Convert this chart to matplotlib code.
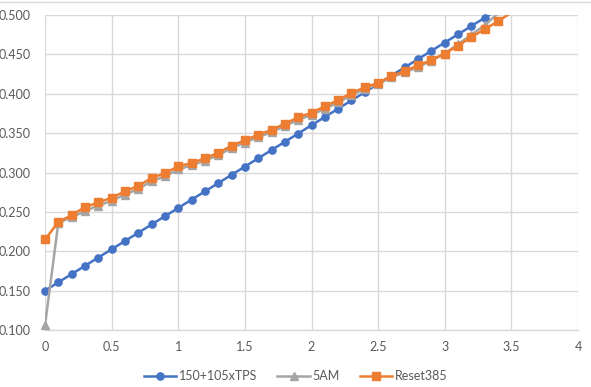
import matplotlib
matplotlib.use("Agg")
import matplotlib.pyplot as plt
from matplotlib.lines import Line2D
import numpy as np

x = [0.0, 0.1, 0.2, 0.3, 0.4, 0.5, 0.6, 0.7, 0.8, 0.9,
     1.0, 1.1, 1.2, 1.3, 1.4, 1.5, 1.6, 1.7, 1.8, 1.9,
     2.0, 2.1, 2.2, 2.3, 2.4, 2.5, 2.6, 2.7, 2.8, 2.9,
     3.0, 3.1, 3.2, 3.3, 3.4, 3.5]
tps = [0.150, 0.1605, 0.171, 0.1815, 0.192, 0.2025, 0.213, 0.2235, 0.234, 0.2445,
       0.255, 0.2655, 0.276, 0.2865, 0.297, 0.3075, 0.318, 0.3285, 0.339, 0.3495,
       0.360, 0.3705, 0.381, 0.3915, 0.402, 0.4125, 0.423, 0.4335, 0.444, 0.4545,
       0.465, 0.4755, 0.486, 0.4965, 0.507, 0.5175]
am5 = [0.106, 0.236, 0.243, 0.251, 0.258, 0.264, 0.272, 0.279, 0.289, 0.295,
       0.304, 0.309, 0.315, 0.322, 0.331, 0.338, 0.345, 0.351, 0.359, 0.367,
       0.373, 0.381, 0.389, 0.398, 0.406, 0.412, 0.421, 0.427, 0.434, 0.442,
       0.451, 0.463, 0.475, 0.487, 0.502, 0.514]
reset = [0.215, 0.237, 0.246, 0.256, 0.262, 0.268, 0.276, 0.283, 0.293, 0.299,
         0.308, 0.312, 0.318, 0.325, 0.334, 0.341, 0.348, 0.354, 0.362, 0.370,
         0.376, 0.384, 0.392, 0.401, 0.408, 0.414, 0.422, 0.429, 0.436, 0.443,
         0.451, 0.461, 0.472, 0.482, 0.492, 0.503]

series_names = ["150+105xTPS", "5AM", "Reset385"]
x_ticks = [0, 0.5, 1, 1.5, 2, 2.5, 3, 3.5, 4]
x_tick_labels = ["0", "0.5", "1", "1.5", "2", "2.5", "3", "3.5", "4"]
y_ticks = [0.100, 0.150, 0.200, 0.250, 0.300, 0.350, 0.400, 0.450, 0.500]

plt.rcParams['font.family'] = ['Lato', 'DejaVu Sans']

W, H = 591, 387
fig = plt.figure(figsize=(W / 100, H / 100), dpi=100)
ax = fig.add_axes([45 / W, 1 - 330 / H, (578 - 45) / W, (330 - 15) / H])

ymin, ymax = 0.1, 0.5
ax.set_xlim(0, 4)
ax.set_ylim(ymin, ymax)

styles = [
    (tps, "#4472C4", "o", 5.2),
    (am5, "#A5A5A5", "^", 5.2),
    (reset, "#ED7D31", "s", 5.2),
]
xa = np.array(x)
handles = []
for i, ((vals, col, mk, ms), name) in enumerate(zip(styles, series_names)):
    ya = np.array(vals)
    ax.plot(xa, ya, color=col, lw=1.8, zorder=3 + i, solid_capstyle='round')
    m = (ya <= ymax) & (ya >= ymin)
    ax.plot(xa[m], ya[m], ls='none', marker=mk, ms=ms, color=col,
            markeredgecolor=col, clip_on=False, zorder=3 + i)
    handles.append(Line2D([0], [0], color=col, lw=1.8, marker=mk, ms=ms,
                          markeredgecolor=col, label=name))

ax.set_xticks(x_ticks)
ax.set_xticklabels(x_tick_labels)
ax.set_yticks(y_ticks)
ax.set_yticklabels([f"{v:.3f}" for v in y_ticks])
ax.grid(True, color="#D9D9D9", lw=1.0)
ax.set_axisbelow(True)
for s in ["top", "right", "left"]:
    ax.spines[s].set_visible(False)
ax.spines["bottom"].set_color("#D9D9D9")
ax.spines["bottom"].set_linewidth(1.0)
ax.tick_params(axis='both', length=0, labelsize=9, labelcolor="#595959")
ax.tick_params(axis='y', pad=10)
ax.tick_params(axis='x', pad=8)

fig.legend(handles=handles, loc='center', bbox_to_anchor=(0.5, 1 - 376 / H),
           ncol=3, frameon=False, fontsize=9, labelcolor="#595959",
           handlelength=2.6, columnspacing=1.6, handletextpad=0.2)

fig.add_artist(Line2D([0, 1], [1 - 1.5 / H, 1 - 1.5 / H], transform=fig.transFigure,
                      color="#D9D9D9", lw=1.0))

fig.savefig("out.png", dpi=100)
